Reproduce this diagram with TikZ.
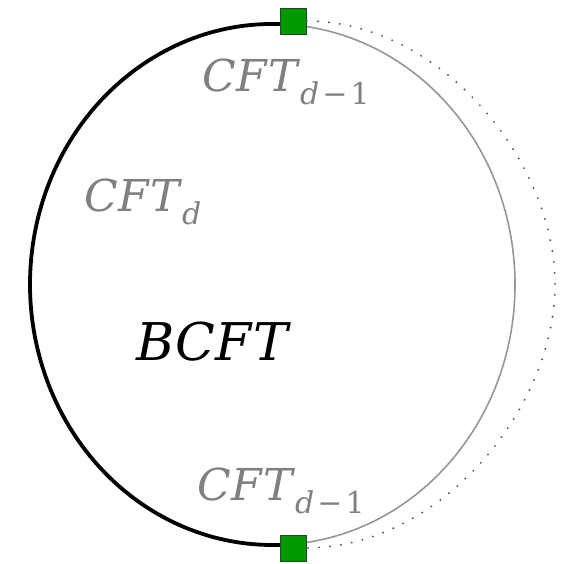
\documentclass[tikz,border=0pt]{standalone}
\usepackage{fontspec}
\newfontfamily\lblfont{DejaVu Serif}
\definecolor{sqgreen}{RGB}{0,153,0}
\definecolor{sqedge}{RGB}{35,70,35}
\definecolor{labelgray}{RGB}{128,128,128}
\definecolor{arcgray}{RGB}{150,150,150}
\definecolor{dotgray}{RGB}{80,80,80}
\tikzset{
  endsq/.style={draw=sqedge, fill=sqgreen, line width=0.8pt, minimum size=26pt, inner sep=0pt},
  thickarc/.style={line width=3.8pt, black},
  thinarc/.style={line width=1.6pt, arcgray},
  dotarc/.style={line width=2.1pt, dotgray, dash pattern=on 0pt off 11pt, line cap=round},
  lbl/.style={anchor=base west, inner sep=0pt, outer sep=0pt, text=labelgray, font=\lblfont\fontsize{44}{48}\selectfont},
  biglbl/.style={anchor=base west, inner sep=0pt, outer sep=0pt, font=\lblfont\fontsize{52}{56}\selectfont}
}
\newcommand{\cftsub}[1]{\textit{C\kern1ptF\kern1ptT}\raisebox{-13pt}{\fontsize{30}{32}\selectfont#1}}
\begin{document}
\begin{tikzpicture}[x=1pt,y=1pt]
\useasboundingbox (0,0) rectangle (575,563);
\coordinate (c) at (272.5,278.5);
% ellipse halves
\draw[thinarc] (c) ++(-85:242.5pt and 260.5pt) arc[start angle=-85, end angle=85, x radius=242.5pt, y radius=260.5pt];
\draw[thickarc] (c) ++(85:242.5pt and 260.5pt) arc[start angle=85, end angle=275, x radius=242.5pt, y radius=260.5pt];
% end squares
\node[endsq] (top) at (293.5,542) {};
\node[endsq] (bot) at (293.5,15) {};
% dotted outer arc
\coordinate (rt) at (555,278.5);
\draw[dotarc] (top.east) .. controls (443,541) and (555,400) .. (rt)
  .. controls (555,157) and (443,16) .. (bot.east);
% labels
\node[lbl] (ltop) at (202,471) {\cftsub{\textit{d}\kern3pt−\kern3pt1}};
\node[lbl] (lbot) at (197,63) {\cftsub{\textit{d}\kern3pt−\kern3pt1}};
\node[lbl] (lmid) at (84,351) {\cftsub{\textit{d}}};
\node[biglbl] (bcft) at (136,203) {\textit{B\kern1ptC\kern1ptF\kern1ptT}};
\end{tikzpicture}
\end{document}
